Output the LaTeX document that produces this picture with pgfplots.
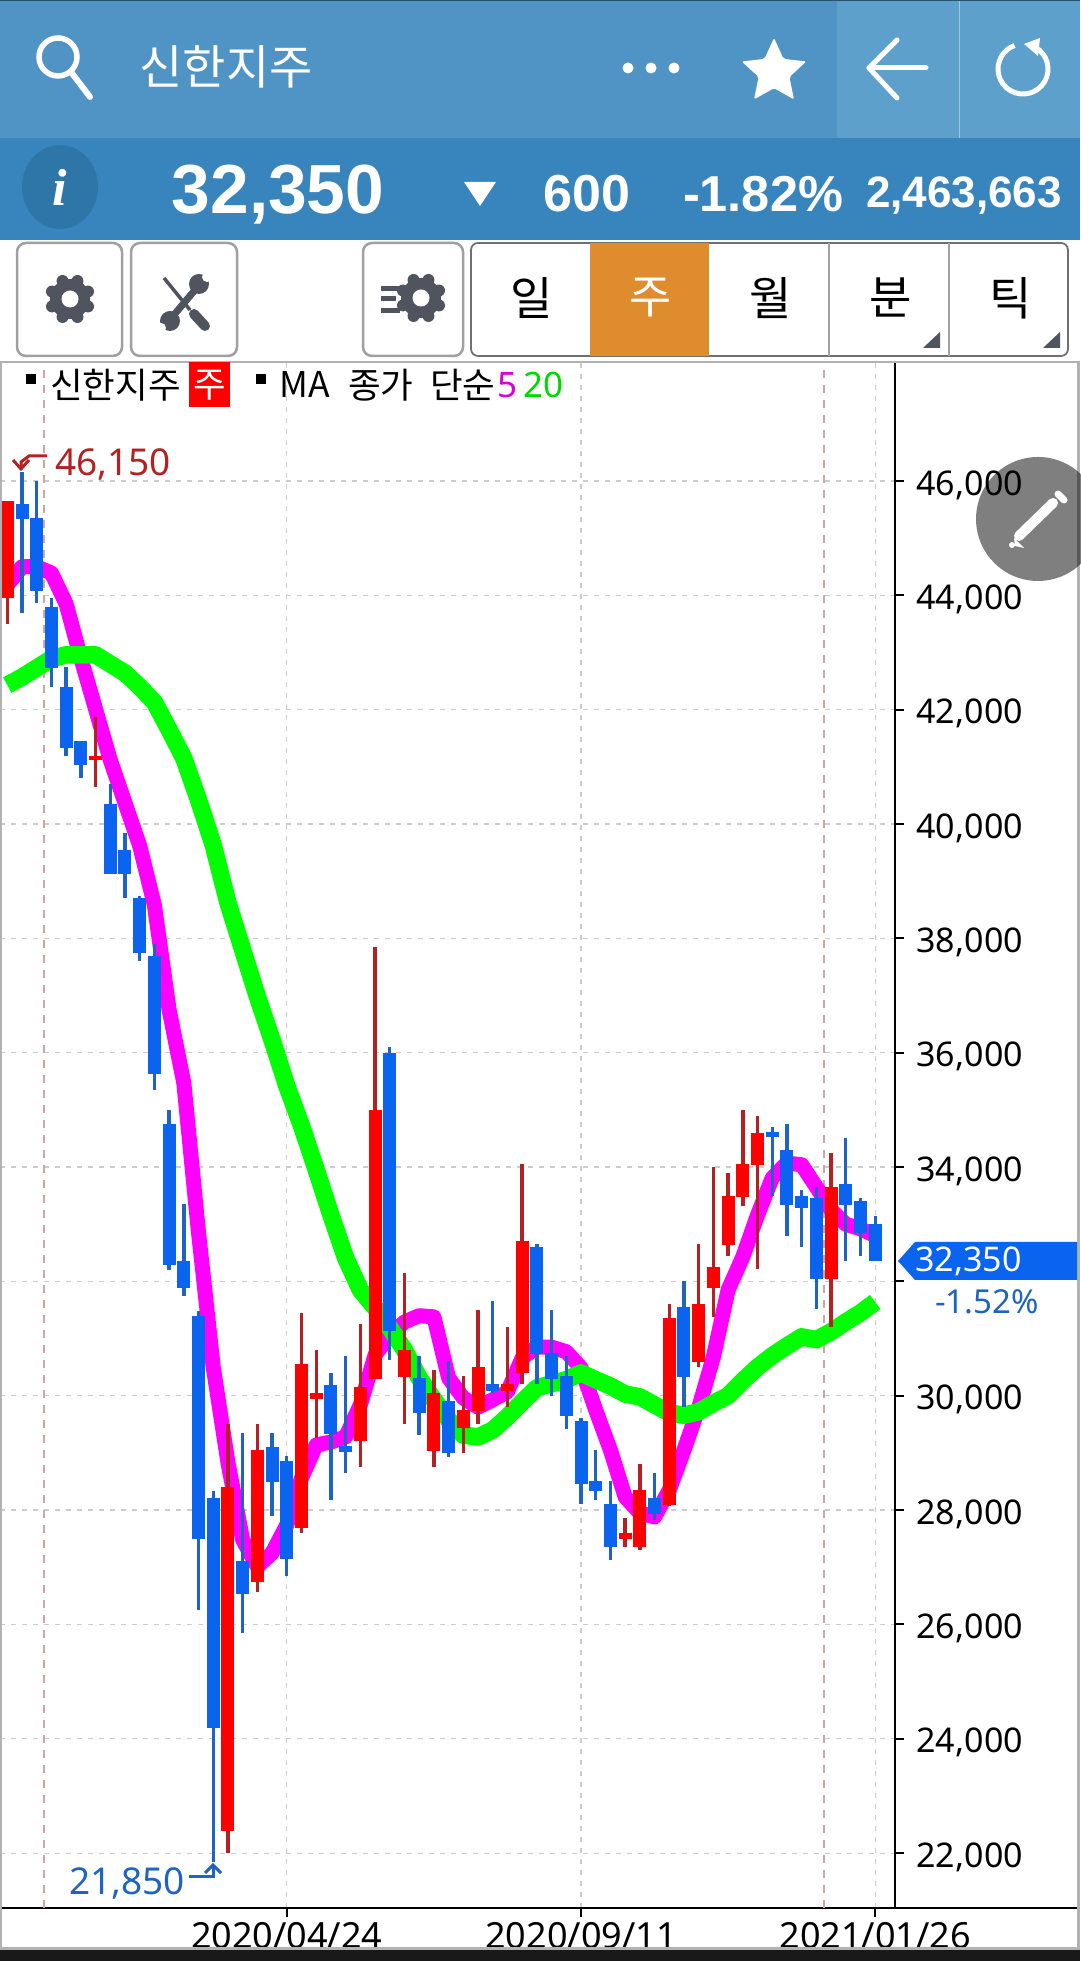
\documentclass[border=0pt]{standalone}
\usepackage{fontspec}
\usepackage{pgfplots}
\usepackage{pgfplotstable}
\pgfplotsset{compat=1.18}
\usetikzlibrary{shapes.geometric}
\setmainfont{Noto Sans}
\newfontfamily\kr{Noto Sans CJK KR}
\newfontfamily\hb{Liberation Sans}
\newfontfamily\hi{Liberation Serif}
\newcommand{\fs}[1]{\fontsize{#1}{#1}\selectfont}

\definecolor{hdr}{HTML}{4F94C4}
\definecolor{hdrlight}{HTML}{5EA0CC}
\definecolor{hdrdark}{HTML}{3884BC}
\definecolor{icirc}{HTML}{2F76A8}
\definecolor{orangetab}{HTML}{DE8C2E}
\definecolor{icon}{HTML}{50545F}
\definecolor{upbody}{HTML}{FF0000}
\definecolor{upwick}{HTML}{B22222}
\definecolor{downbody}{HTML}{0A64F0}
\definecolor{downwick}{HTML}{1E64C0}
\definecolor{ma5}{HTML}{FF00FF}
\definecolor{ma20}{HTML}{00FF00}
\definecolor{btn}{HTML}{A0A0A4}
\definecolor{yeargrid}{HTML}{CFA5A5}

% weekly candles: i low bottom top high
\pgfplotstableread{
i low bot top high
0 43500 43950 45650 45650
6 40650 41120 41190 41870
15 22000 22390 28400 29510
17 26560 26750 29050 29510
20 27600 27690 30560 31450
21 29260 29950 30050 30800
24 28760 29200 30150 31260
25 30300 30300 35000 37850
27 29510 30330 30800 32150
29 28760 29040 30050 30450
31 29000 29440 29750 30350
32 29510 29730 30500 31500
34 29810 30080 30210 31200
35 30210 30390 32710 34050
42 27360 27500 27600 27860
43 27310 27350 28350 28810
45 28070 28090 31360 31600
47 30510 30590 31600 32660
48 31370 31890 32250 34000
49 32450 32640 33500 33900
50 33310 33480 34050 35000
51 32210 34040 34600 34890
56 31210 32050 33650 34250
}\upcandles

\pgfplotstableread{
i low bot top high
1 43690 45335 45600 46150
2 43870 44080 45350 46000
3 42400 42730 43800 43950
4 41190 41330 42400 42750
5 40800 41030 41450 41450
7 39130 39130 40350 40700
8 38700 39130 39550 39840
9 37600 37750 38700 38740
10 35350 35630 37690 37900
11 32200 32290 34750 35000
12 31750 31890 32360 33350
13 26250 27500 31400 31480
14 21850 24190 28210 28340
16 25850 26540 27110 29350
18 27900 28490 29110 29350
19 26850 27150 28860 28950
22 28170 29330 30190 30400
23 28650 29010 29120 30700
26 30630 31140 36000 36100
28 29320 29700 30310 30700
30 28920 28990 29910 30610
33 30050 30080 30210 31660
36 30210 30730 32600 32660
37 30000 30300 30750 31500
38 29410 29640 30350 30700
39 28110 28450 29560 29610
40 28170 28340 28510 29050
41 27120 27350 28110 28510
44 27820 27930 28210 28650
46 29810 30330 31550 32010
52 33500 34530 34610 34700
53 32800 33340 34300 34750
54 32610 33290 33500 33600
55 31510 32050 33460 33650
57 32360 33340 33700 34510
58 32450 32840 33410 33460
59 32350 32350 33010 33150
}\downcandles

% moving averages
\pgfplotstableread{
i ma5 ma20
0 44180 42430
1 44500 42570
2 44500 42730
3 44390 42890
4 43850 42960
5 42900 42960
6 42010 42960
7 41120 42800
8 40370 42640
9 39620 42400
10 38580 42130
11 36750 41650
12 35470 41150
13 32850 40420
14 30500 39630
15 28830 38620
16 27480 37800
17 27010 36980
18 27250 36220
19 27740 35420
20 28560 34720
21 29140 33950
22 29190 33160
23 29280 32410
24 29840 31850
25 30710 31540
26 31060 31190
27 31290 30800
28 31400 30310
29 31380 29930
30 30310 29580
31 29960 29310
32 29800 29280
33 29930 29400
34 30070 29630
35 30660 29890
36 30850 30140
37 30850 30210
38 30770 30280
39 30490 30400
40 29750 30280
41 29050 30170
42 28230 30030
43 27950 29980
44 27880 29840
45 28350 29700
46 29050 29660
47 29790 29720
48 30680 29870
49 31850 30000
50 32430 30260
51 33160 30500
52 33810 30700
53 34070 30870
54 34040 31030
55 33650 30980
56 33250 31120
57 33000 31290
58 32920 31450
59 32800 31640
}\mas

\newcommand{\gear}[2]{%
  \fill[icon] (#1,#2) circle[radius=20];
  \foreach \a in {0,45,...,315}
    \fill[icon] ({#1+19.5*cos(\a+22.5)},{#2+19.5*sin(\a+22.5)}) circle[radius=6];
  \fill[white] (#1,#2) circle[radius=8.5];
}

\begin{document}
\begin{tikzpicture}
\path[use as bounding box, fill=white] (0,0) rectangle (1080pt,1961pt);
\begin{axis}[
  at={(0pt,53pt)}, anchor=south west,
  scale only axis, width=895pt, height=1546pt,
  xmin=-0.4963, xmax=60.346, ymin=21040, ymax=48081,
  axis x line*=bottom, axis y line*=right,
  axis line style={line width=2pt,-},
  xtick={19,39,59},
  xticklabels={2020/04/24,2020/09/11,2021/01/26},
  ytick={22000,24000,...,46000},
  % 32,000 sits behind the last price flag, the app leaves it out
  yticklabels={{22,000},{24,000},{26,000},{28,000},{30,000},{},{34,000},{36,000},{38,000},{40,000},{42,000},{44,000},{46,000}},
  tick align=outside, major tick length=9pt,
  tick style={line width=2pt,black},
  grid=major,
  grid style={dash pattern=on 5pt off 6pt,line width=1.2pt,black!20},
  extra x ticks={2.49,55.52},
  extra x tick labels={},
  extra x tick style={major tick length=0pt,
    grid style={dash pattern=on 8pt off 7pt,line width=1.8pt,yeargrid}},
  yticklabel style={font=\fs{34},xshift=9pt,yshift=-4pt},
  xticklabel style={font=\fs{36},yshift=-2pt},
]
% moving averages sit under the candles
\addplot[ma5,line width=15pt,line join=round] table[x=i,y=ma5] {\mas};
\addplot[ma20,line width=17.5pt,line join=round] table[x=i,y=ma20] {\mas};
% wicks
\addplot[draw=none,no markers,error bars/.cd,y dir=both,y explicit,error mark=none,
  error bar style={line width=3.4pt,draw=upwick}]
  table[x=i,y=top,y error plus expr=\thisrow{high}-\thisrow{top},y error minus expr=\thisrow{top}-\thisrow{low}] {\upcandles};
\addplot[draw=none,no markers,error bars/.cd,y dir=both,y explicit,error mark=none,
  error bar style={line width=3.4pt,draw=downwick}]
  table[x=i,y=top,y error plus expr=\thisrow{high}-\thisrow{top},y error minus expr=\thisrow{top}-\thisrow{low}] {\downcandles};
% bodies
\addplot[draw=none,no markers,error bars/.cd,y dir=minus,y explicit,error mark=none,
  error bar style={line width=13pt,draw=upbody}]
  table[x=i,y=top,y error minus expr=\thisrow{top}-\thisrow{bot}] {\upcandles};
\addplot[draw=none,no markers,error bars/.cd,y dir=minus,y explicit,error mark=none,
  error bar style={line width=13pt,draw=downbody}]
  table[x=i,y=top,y error minus expr=\thisrow{top}-\thisrow{bot}] {\downcandles};
\end{axis}

% everything below is in reference pixels, y down
\begin{scope}[x=1pt,y=-1pt,yshift=1961pt]
% chart frame
\draw[line width=2pt,black] (895,1908) -- (1080,1908);
\draw[line width=1.5pt,black!30] (0,362) -- (1080,362);
\draw[line width=2pt,black!30] (0.5,362) -- (0.5,1948);
\draw[line width=3pt,black!30] (1078.5,362) -- (1078.5,1948);
\fill[black!30] (0,1947) rectangle (1080,1950);
\fill[black!90] (0,1950) rectangle (1080,1961);

% header bars
\fill[hdr] (0,0) rectangle (1080,138);
\fill[hdrlight] (837,0) rectangle (1080,138);
\draw[line width=1pt,white!40!hdrlight] (959,0) -- (959,138);
\fill[hdrdark] (0,138) rectangle (1080,240);
\fill[black!45!hdr] (0,0) rectangle (1080,1.5);
% search icon
\draw[white,line width=5.5pt] (58,57) circle[radius=19];
\draw[white,line width=6pt,line cap=round] (71,72) -- (90,97);
\node[white,anchor=center,inner sep=0pt] at (226,67) {\kr\fs{47}신한지주};
\foreach \x in {628,651,674} \fill[white] (\x,68) circle[radius=5.5];
\node[star,star points=5,star point ratio=2.1,fill=white,inner sep=0pt,minimum size=68pt,rounded corners=2pt] at (774,72) {};
% back arrow
\draw[white,line width=5pt,line cap=round,line join=round] (897,40) -- (869,68) -- (897,98);
\draw[white,line width=5pt,line cap=round] (869,68) -- (926,68);
% refresh
\draw[white,line width=5pt] (1035.5,47.4) arc[start angle=-60,end angle=250,radius=25];
\fill[white] (1040,38) -- (1038,56) -- (1024,44) -- cycle;

% quote bar
\fill[icirc] (60,187) ellipse[x radius=38,y radius=42];
\node[white,inner sep=0pt] at (60,187) {\hi\bfseries\itshape\fs{52}i};
\node[white,inner sep=0pt] at (278,195) {\hb\bfseries\fs{69.5}32,350};
\fill[white] (464,182) -- (496,182) -- (480,206) -- cycle;
\node[white,inner sep=0pt] at (587,194) {\hb\bfseries\fs{52}600};
\node[white,inner sep=0pt] at (763,194) {\hb\bfseries\fs{50.5}-1.82\%};
\node[white,inner sep=0pt] at (964,196) {\hb\bfseries\fs{44}2,463,663};

% toolbar buttons
\foreach \a/\b in {17/122,131/237,363/463}
  \draw[btn,fill=white,line width=2.5pt,rounded corners=9pt] (\a,243) rectangle (\b,356);
\gear{70}{299}
\gear{421}{298}
\fill[icon] (381,286) rectangle (400,291);
\fill[icon] (381,296) rectangle (396,301);
\fill[icon] (381,308) rectangle (400,313);
% tools
\draw[icon,line width=3.5pt] (164,278) -- (190,310);
\draw[icon,line width=10pt,line cap=round] (194,314) -- (205,326);
\draw[icon,line width=7pt] (168,322) -- (200,284);
\fill[icon] (170,321) circle[radius=10];
\fill[icon] (199,284) circle[radius=10];
\fill[white] (207,277) circle[radius=5];
\fill[white] (161,328) circle[radius=5];
% period tabs
\draw[btn!70!black,fill=white,line width=1.8pt,rounded corners=7pt] (471,243) rectangle (1068,356);
\fill[orangetab] (589.5,243) rectangle (709,356);
\foreach \x in {829,949} \draw[btn,line width=1.5pt] (\x,243) -- (\x,356);
\node[black,inner sep=0pt] at (532,298) {\kr\fs{46}일};
\node[white,inner sep=0pt] at (651,298) {\kr\fs{46}주};
\node[black,inner sep=0pt] at (771,298) {\kr\fs{46}월};
\node[black,inner sep=0pt] at (891,298) {\kr\fs{46}분};
\node[black,inner sep=0pt] at (1011,298) {\kr\fs{46}틱};
\fill[icon] (940,332) -- (940,348) -- (923,348) -- cycle;
\fill[icon] (1060,332) -- (1060,348) -- (1043,348) -- cycle;

% legend row
\fill[black] (26,374) rectangle (36,384);
\node[black,anchor=west,inner sep=0pt] at (50,385) {\kr\fs{35.5}신한지주};
\fill[upbody] (189,362) rectangle (230,407);
\node[white,inner sep=0pt] at (209.5,385) {\kr\fs{35.5}주};
\fill[black] (256,374) rectangle (266,384);
\node[black,anchor=west,inner sep=0pt] at (279,385) {\kr\fs{35.5}MA};
\node[black,anchor=west,inner sep=0pt] at (348,385) {\kr\fs{35.5}종가};
\node[black,anchor=west,inner sep=0pt] at (430,385) {\kr\fs{35.5}단순};
\node[ma5!85!black,anchor=west,inner sep=0pt] at (497,385) {\fs{35}5};
\node[ma20!85!black,anchor=west,inner sep=0pt] at (523,385) {\fs{35}20};

% high and low flags
\node[upwick,anchor=west,inner sep=0pt] at (55,464) {\fs{37}46,150};
\draw[upwick,line width=3pt] (47,456) -- (29,456) -- (21,462) -- (21,468);
\draw[upwick,line width=3pt] (13,460) -- (21,469) -- (29,460);
\node[downwick,anchor=west,inner sep=0pt] at (69,1883) {\fs{37}21,850};
\draw[downwick,line width=3pt] (189,1877) -- (213,1877) -- (213,1866);
\draw[downwick,line width=3pt] (205,1873) -- (213,1865) -- (221,1873);

% last price pointer
\fill[downbody] (898,1261) -- (915,1242) -- (1077,1242) -- (1077,1280) -- (915,1280) -- cycle;
\node[white,anchor=west,inner sep=0pt] at (915,1261) {\fs{34}32,350};
\node[downwick,anchor=west,inner sep=0pt] at (935,1302) {\fs{33}-1.52\%};

% pencil button
\fill[black,opacity=0.5] (1038,519) circle[radius=62];
\draw[white,line width=10pt,line cap=round] (1019,536) -- (1053,503);
\fill[white] (1014,538) -- (1024,548) -- (1015,546) -- cycle;
\fill[white] (1012,545) circle[radius=3];
\draw[white,line width=7pt,line cap=round] (1058,494) -- (1064,500);
\end{scope}
\end{tikzpicture}
\end{document}
